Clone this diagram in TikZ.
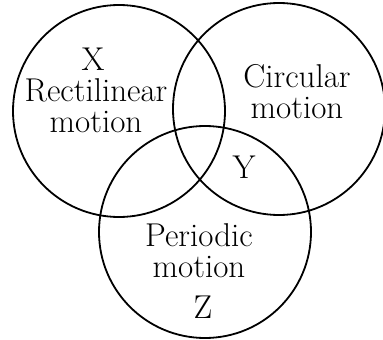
\documentclass[tikz,border=0pt]{standalone}
\usepackage{fontspec}
\usetikzlibrary{positioning}
\begin{document}
\begin{tikzpicture}[
  x=1pt,y=-1pt,
  set/.style={draw=black,line width=1.8pt,circle,minimum size=212pt,inner sep=0pt},
  lbl/.style={font=\fontsize{33}{31}\selectfont,align=center,inner sep=0pt,anchor=base}
]
\useasboundingbox (0,0) rectangle (383,340);
% the three sets
\node[set] (rectilinear) at (119,111) {};
\node[set] (circular) at (279,109) {};
\node[set] (periodic) at (205,232) {};

% labels (base = last line)
\node[lbl] (xlabel) at (93,70) {X};
\node[lbl] (rectext) at (96,132) {Rectilinear\\motion};
\node[lbl] (circtext) at (297,118) {Circular\\motion};
\node[lbl] (ylabel) at (244,178) {Y};
\node[lbl] (pertext) at (199,277) {Periodic\\motion};
\node[lbl] (zlabel) at (203,318) {Z};
\end{tikzpicture}
\end{document}
